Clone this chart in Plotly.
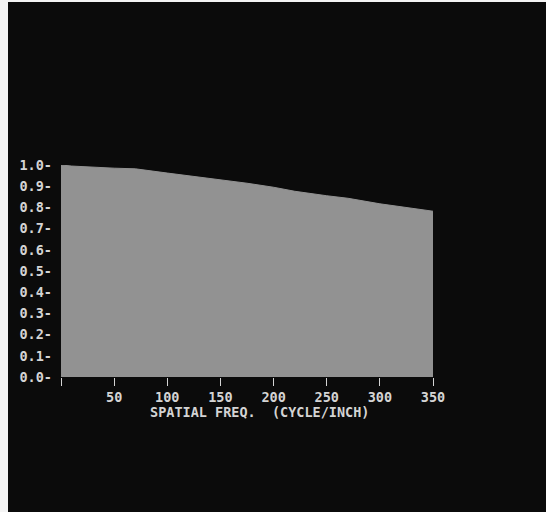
import plotly.graph_objects as go

freq = [0, 10, 50, 70, 100, 125, 150, 175, 200, 220, 250, 270, 300, 325, 350]
mtf = [1.0, 0.995, 0.985, 0.982, 0.962, 0.947, 0.932, 0.914, 0.895, 0.876, 0.855, 0.843, 0.817, 0.800, 0.782]

x_ticks = [0, 50, 100, 150, 200, 250, 300, 350]
x_labels = ["", "50", "100", "150", "200", "250", "300", "350"]
y_ticks = [0.0, 0.1, 0.2, 0.3, 0.4, 0.5, 0.6, 0.7, 0.8, 0.9, 1.0]
y_labels = ["0.0-", "0.1-", "0.2-", "0.3-", "0.4-", "0.5-", "0.6-", "0.7-", "0.8-", "0.9-", "1.0-"]
x_title = "SPATIAL FREQ.  (CYCLE/INCH)"

TXT = "#d4d4d4"
FONT = dict(family="DejaVu Sans Mono", size=13.5, color=TXT, weight="bold")

fig = go.Figure()
fig.add_trace(go.Scatter(
    x=freq, y=mtf, mode="lines", fill="tozeroy",
    line=dict(color="#929292", width=1), fillcolor="#929292",
    hoverinfo="skip", showlegend=False,
))

L, R, T, B = 61, 113, 165, 135
fig.update_layout(
    width=546, height=512,
    margin=dict(l=L, r=R, t=T, b=B, pad=0),
    paper_bgcolor="#f4f4f4",
    plot_bgcolor="#0b0b0b",
    font=FONT,
    xaxis=dict(
        range=[0, 350], tickvals=x_ticks, ticktext=x_labels,
        ticks="outside", ticklen=8, tickwidth=1, tickcolor=TXT,
        showgrid=False, zeroline=False, showline=False,
        tickfont=FONT, fixedrange=True,
    ),
    yaxis=dict(
        range=[0, 1.0], tickvals=y_ticks, ticktext=y_labels,
        ticks="", showgrid=False, zeroline=False, showline=False,
        tickfont=FONT, ticklabelstandoff=8, fixedrange=True,
    ),
    shapes=[dict(
        type="rect", xref="paper", yref="paper",
        x0=(8 - L) / 372, x1=(546 - L) / 372,
        y0=(377 - 512) / 212, y1=(377 - 2) / 212,
        fillcolor="#0b0b0b", line=dict(width=0), layer="below",
    )],
    annotations=[dict(
        text=x_title, xref="x", yref="paper", x=187, y=(377 - 412) / 212,
        showarrow=False, font=FONT, xanchor="center", yanchor="middle",
    )],
)

fig.write_html("out.html")
